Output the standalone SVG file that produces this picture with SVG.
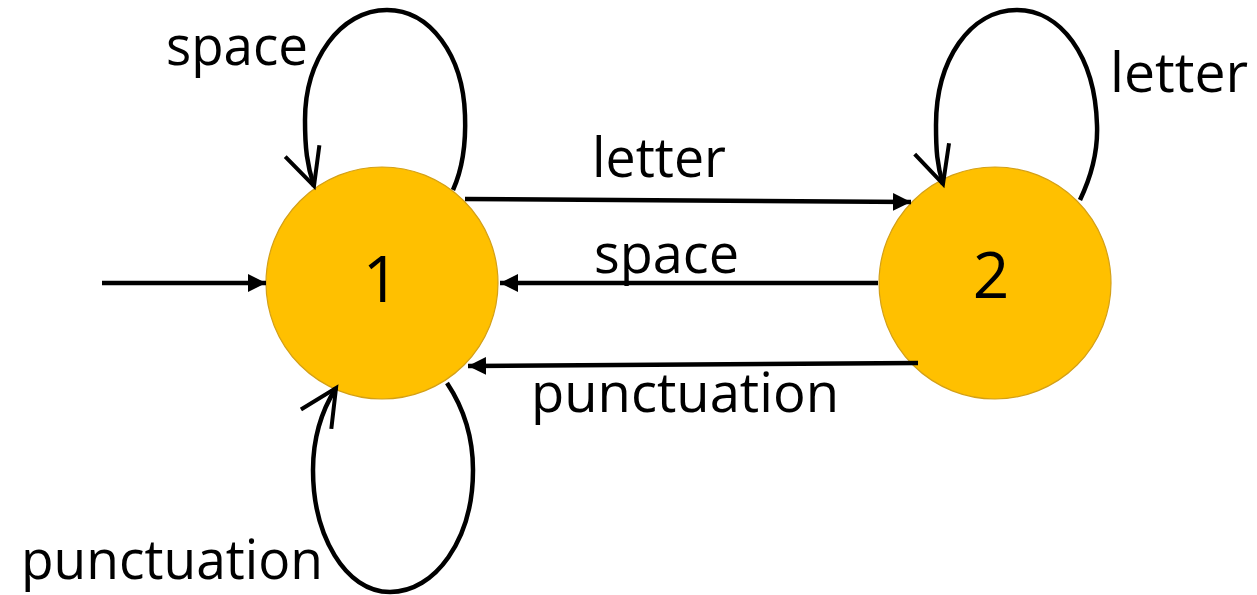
<svg xmlns="http://www.w3.org/2000/svg" width="1257" height="595" viewBox="0 0 1257 595">
  <style>
    .state { fill: #FFC000; stroke: #D4A017; stroke-width: 1.2; }
    .label { font-family: "Open Sans", "Noto Sans", "Liberation Sans", sans-serif; font-size: 55px; fill: #000; }
    .num { font-family: "Open Sans", "Noto Sans", "Liberation Sans", sans-serif; font-size: 64px; fill: #000; text-anchor: middle; }
    .edge { fill: none; stroke: #000; stroke-width: 4.5; }
    .loop { fill: none; stroke: #000; stroke-width: 4.5; }
  </style>
  <defs>
    <!-- solid head for the straight transitions -->
    <marker id="solid" markerUnits="userSpaceOnUse" viewBox="0 -10 20 20" refX="18" refY="0" markerWidth="20" markerHeight="20" orient="auto">
      <path d="M0,-9 L18,0 L0,9 Z" fill="#000"/>
    </marker>
    <!-- open V head for the self loops -->
    <marker id="open" markerUnits="userSpaceOnUse" viewBox="-44 -24 50 48" refX="0" refY="0" markerWidth="50" markerHeight="48" orient="auto">
      <path d="M-37,-18 L0,0 L-37,18" fill="none" stroke="#000" stroke-width="4" stroke-linejoin="miter"/>
    </marker>
  </defs>

  <rect width="1257" height="595" fill="#fff"/>

  <g id="state-1">
    <circle class="state" cx="382" cy="283" r="116"/>
    <text class="num" x="381" y="302">1</text>
  </g>

  <g id="state-2">
    <circle class="state" cx="995" cy="283" r="116"/>
    <text class="num" x="991" y="298">2</text>
  </g>

  <g id="connectors">
    <!-- start arrow -->
    <path class="edge" d="M102,283 L266,283" marker-end="url(#solid)"/>
    <!-- 1 -> 2 on letter -->
    <path class="edge" d="M465,199 L911,202" marker-end="url(#solid)"/>
    <!-- 2 -> 1 on space -->
    <path class="edge" d="M878,283 L500,283" marker-end="url(#solid)"/>
    <!-- 2 -> 1 on punctuation -->
    <path class="edge" d="M918,363 L468,366" marker-end="url(#solid)"/>
    <!-- 1 -> 1 on space -->
    <path class="loop" d="M453,190 C462,170 466,142 465,115 C463,55 430,10 387,10 C340,10 305,60 305,120 C305,148 307,165 314,186" marker-end="url(#open)"/>
    <!-- 2 -> 2 on letter -->
    <path class="loop" d="M1080,200 C1092,175 1098,150 1097,125 C1095,55 1060,10 1017,10 C970,10 936,60 936,125 C936,150 937,165 943,184" marker-end="url(#open)"/>
    <!-- 1 -> 1 on punctuation -->
    <path class="loop" d="M447,383 C465,410 473,440 473,470 C473,540 435,592 390,592 C345,592 313,535 313,470 C313,435 322,410 336,388" marker-end="url(#open)"/>
  </g>

  <g id="labels">
    <text class="label" x="166" y="65" textLength="142" lengthAdjust="spacingAndGlyphs">space</text>
    <text class="label" x="1110" y="92" textLength="138" lengthAdjust="spacingAndGlyphs">letter</text>
    <text class="label" x="592" y="177" textLength="134" lengthAdjust="spacingAndGlyphs">letter</text>
    <text class="label" x="594" y="273" textLength="145" lengthAdjust="spacingAndGlyphs">space</text>
    <text class="label" x="531" y="412" textLength="308" lengthAdjust="spacingAndGlyphs">punctuation</text>
    <text class="label" x="21" y="579" textLength="302" lengthAdjust="spacingAndGlyphs">punctuation</text>
  </g>
</svg>
